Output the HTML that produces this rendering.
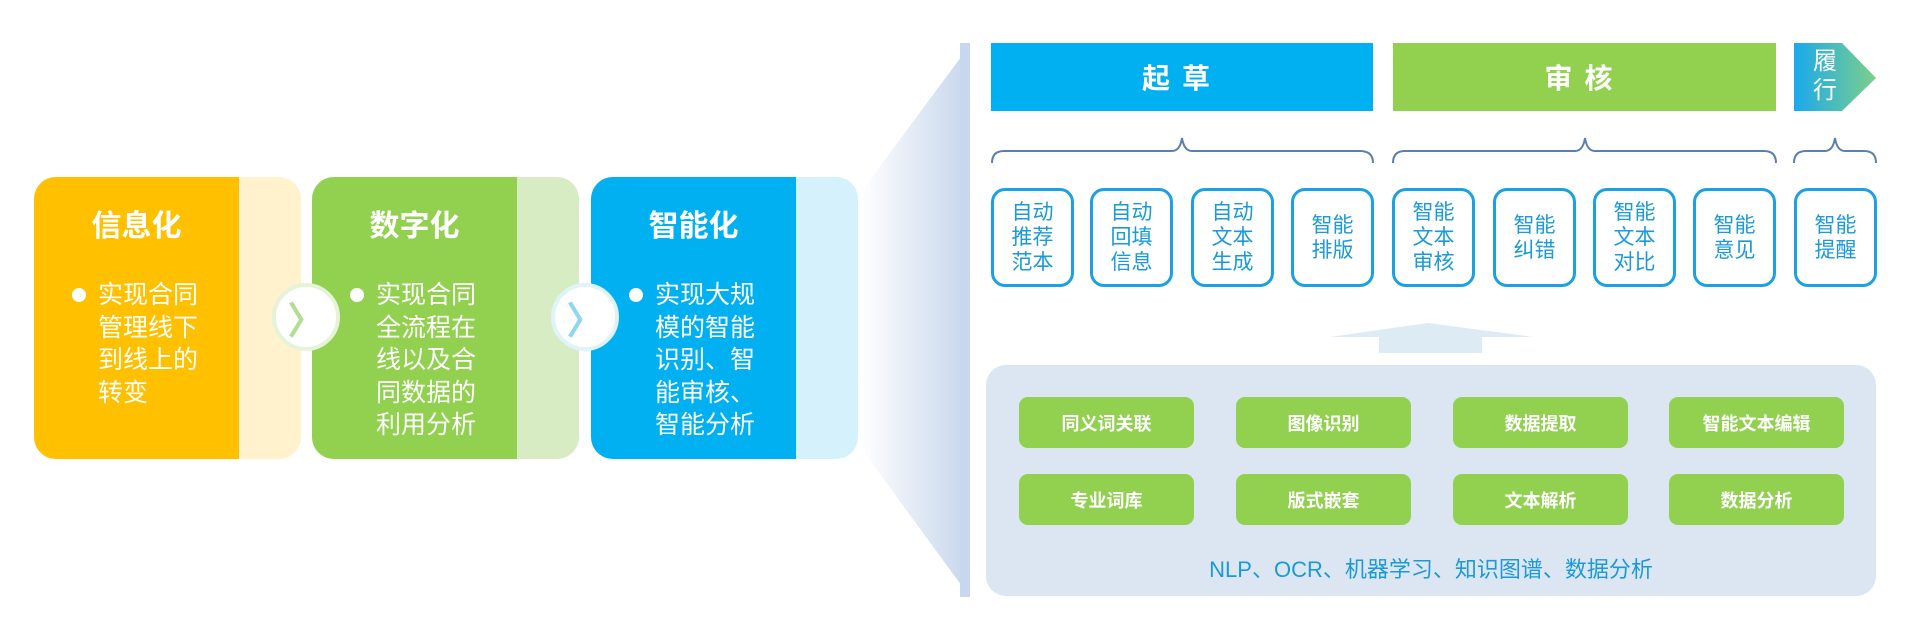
<!DOCTYPE html>
<html><head><meta charset="utf-8"><style>
body{margin:0;width:1920px;height:641px;background:#fff;position:relative;overflow:hidden;font-family:"Liberation Sans","Noto Sans CJK SC",sans-serif}
.a{position:absolute;box-sizing:border-box}
.card{border-radius:22px;overflow:hidden}
.title{position:absolute;left:0;top:24px;color:#fff;font-weight:bold;font-size:30px;text-align:center}
.txt{position:absolute;color:#fff;font-size:25px;line-height:32.5px;width:110px}
.dot{position:absolute;width:14px;height:14px;border-radius:50%;background:#fff}
.circ{width:68px;height:68px;border-radius:50%;background:#fff;border:4px solid;display:flex;align-items:center;justify-content:center}
.sb{border:3px solid #1ba1e2;border-radius:14px;color:#1a9ad6;font-size:21px;line-height:25px;display:flex;align-items:center;justify-content:center;text-align:center;width:83px;height:99px;top:188px}
.gb{background:#92d050;border-radius:9px;color:#fff;font-weight:bold;font-size:18px;display:flex;align-items:center;justify-content:center;width:175px;height:51px}
.hd{color:#fff;font-weight:bold;font-size:28px;letter-spacing:12px;display:flex;align-items:center;justify-content:center;top:43px;height:68px}
</style></head><body>
<svg class="a" style="left:0;top:0" width="1920" height="641">
<defs><linearGradient id="f" x1="0" x2="1"><stop offset="0" stop-color="#fff"/><stop offset="1" stop-color="#c6d6ec"/></linearGradient>
<linearGradient id="h" x1="0" x2="1"><stop offset="0" stop-color="#1aa9ec"/><stop offset="1" stop-color="#7dcf8a"/></linearGradient></defs>
<polygon points="860,193 970,45 970,597 860,447" fill="url(#f)"/>
<polygon points="1794,43 1842,43 1876,78 1842,111 1794,111" fill="url(#h)"/>
<g fill="none" stroke="#5b7fae" stroke-width="2">
<path d="M992,163 Q992,151 1004,151 L1172,151 Q1180,151 1182,138 Q1184,151 1192,151 L1360,151 Q1373,151 1373,163"/>
<path d="M1393,163 Q1393,151 1405,151 L1575,151 Q1583,151 1585,138 Q1587,151 1595,151 L1764,151 Q1776,151 1776,163"/>
<path d="M1794,163 Q1794,151 1806,151 L1825,151 Q1833,151 1835,138 Q1837,151 1845,151 L1864,151 Q1876,151 1876,163"/>
</g>
<polygon points="1428,323 1533,337 1482,337 1482,353 1379,353 1379,337 1330,337" fill="#dcebf4"/>
</svg>
<div class="a card" style="left:34px;top:177px;width:267px;height:282px;background:#fff2cc"><div class="a" style="left:0;top:0;width:205px;height:282px;background:#ffc000"><div class="title" style="width:205px">信息化</div><div class="dot" style="left:38px;top:111px"></div><div class="txt" style="left:64px;top:102px">实现合同管理线下到线上的转变</div></div></div>
<div class="a card" style="left:312px;top:177px;width:267px;height:282px;background:#d8ecc4"><div class="a" style="left:0;top:0;width:205px;height:282px;background:#92d050"><div class="title" style="width:205px">数字化</div><div class="dot" style="left:38px;top:111px"></div><div class="txt" style="left:64px;top:102px">实现合同全流程在线以及合同数据的利用分析</div></div></div>
<div class="a card" style="left:591px;top:177px;width:267px;height:282px;background:#d4f1fc"><div class="a" style="left:0;top:0;width:205px;height:282px;background:#00b0f0"><div class="title" style="width:205px">智能化</div><div class="dot" style="left:38px;top:111px"></div><div class="txt" style="left:64px;top:102px">实现大规模的智能识别、智能审核、智能分析</div></div></div>
<div class="a circ" style="left:272px;top:283px;border-color:#e6f3d8;color:#b5dd92;font-size:38px;font-weight:bold">〉</div>
<div class="a circ" style="left:551px;top:283px;border-color:#dff3fb;color:#8fd6f2;font-size:38px;font-weight:bold">〉</div>
<div class="a" style="left:960px;top:43px;width:10px;height:554px;background:#c9d7ee"></div>
<div class="a hd" style="left:991px;width:382px;background:#00b0f0">起草</div>
<div class="a hd" style="left:1393px;width:383px;background:#92d050">审核</div>
<div class="a" style="left:1800px;top:47px;width:50px;color:#fff;font-size:24px;line-height:29px;text-align:center">履<br>行</div>
<div class="a sb" style="left:991px">自动<br>推荐<br>范本</div>
<div class="a sb" style="left:1090px">自动<br>回填<br>信息</div>
<div class="a sb" style="left:1191px">自动<br>文本<br>生成</div>
<div class="a sb" style="left:1291px">智能<br>排版</div>
<div class="a sb" style="left:1392px">智能<br>文本<br>审核</div>
<div class="a sb" style="left:1493px">智能<br>纠错</div>
<div class="a sb" style="left:1593px">智能<br>文本<br>对比</div>
<div class="a sb" style="left:1693px">智能<br>意见</div>
<div class="a sb" style="left:1794px">智能<br>提醒</div>
<div class="a" style="left:986px;top:365px;width:890px;height:231px;background:#dce6f2;border-radius:20px"></div>
<div class="a gb" style="left:1019px;top:397px">同义词关联</div>
<div class="a gb" style="left:1236px;top:397px">图像识别</div>
<div class="a gb" style="left:1453px;top:397px">数据提取</div>
<div class="a gb" style="left:1669px;top:397px">智能文本编辑</div>
<div class="a gb" style="left:1019px;top:474px">专业词库</div>
<div class="a gb" style="left:1236px;top:474px">版式嵌套</div>
<div class="a gb" style="left:1453px;top:474px">文本解析</div>
<div class="a gb" style="left:1669px;top:474px">数据分析</div>
<div class="a" style="left:986px;top:556px;width:890px;text-align:center;color:#1a9ad6;font-size:22px;line-height:28px">NLP、OCR、机器学习、知识图谱、数据分析</div>
</body></html>
